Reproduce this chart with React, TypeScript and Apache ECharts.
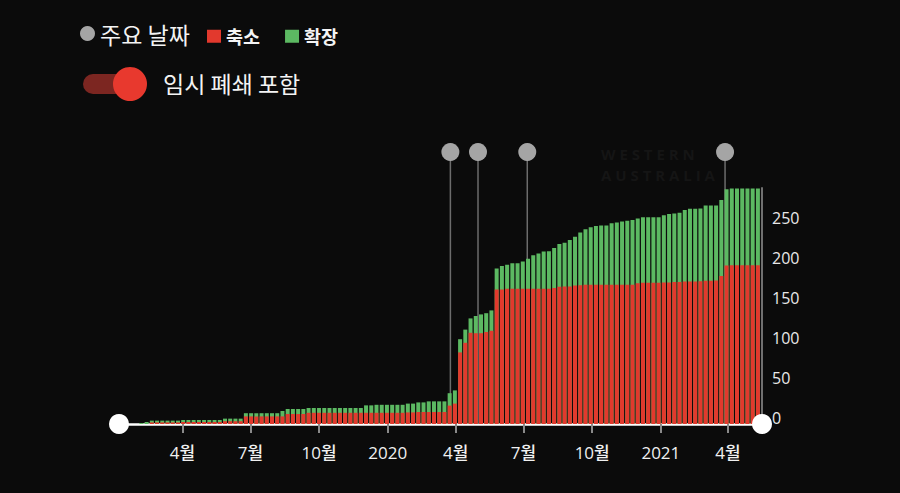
import React, { useEffect, useRef } from "react";
import * as echarts from "echarts";

const weekDates = [
  "2019-02-05","2019-02-12","2019-02-19","2019-02-26","2019-03-05","2019-03-12","2019-03-19","2019-03-26",
  "2019-04-02","2019-04-09","2019-04-16","2019-04-23","2019-04-30","2019-05-07","2019-05-14","2019-05-21",
  "2019-05-28","2019-06-04","2019-06-11","2019-06-18","2019-06-25","2019-07-02","2019-07-09","2019-07-16",
  "2019-07-23","2019-07-30","2019-08-06","2019-08-13","2019-08-20","2019-08-27","2019-09-03","2019-09-10",
  "2019-09-17","2019-09-24","2019-10-01","2019-10-08","2019-10-15","2019-10-22","2019-10-29","2019-11-05",
  "2019-11-12","2019-11-19","2019-11-26","2019-12-03","2019-12-10","2019-12-17","2019-12-24","2019-12-31",
  "2020-01-07","2020-01-14","2020-01-21","2020-01-28","2020-02-04","2020-02-11","2020-02-18","2020-02-25",
  "2020-03-03","2020-03-10","2020-03-17","2020-03-24","2020-03-31","2020-04-07","2020-04-14","2020-04-21",
  "2020-04-28","2020-05-05","2020-05-12","2020-05-19","2020-05-26","2020-06-02","2020-06-09","2020-06-16",
  "2020-06-23","2020-06-30","2020-07-07","2020-07-14","2020-07-21","2020-07-28","2020-08-04","2020-08-11",
  "2020-08-18","2020-08-25","2020-09-01","2020-09-08","2020-09-15","2020-09-22","2020-09-29","2020-10-06",
  "2020-10-13","2020-10-20","2020-10-27","2020-11-03","2020-11-10","2020-11-17","2020-11-24","2020-12-01",
  "2020-12-08","2020-12-15","2020-12-22","2020-12-29","2021-01-05","2021-01-12","2021-01-19","2021-01-26",
  "2021-02-02","2021-02-09","2021-02-16","2021-02-23","2021-03-02","2021-03-09","2021-03-16","2021-03-23",
  "2021-03-30","2021-04-06","2021-04-13","2021-04-20","2021-04-27","2021-05-04","2021-05-11",
];

// 축소 (red, bottom of stack)
const reductionValues = [
  0, 0, 2, 2, 2, 2, 2, 2, 2.5, 2.5, 2.5, 2.5, 2.5, 2.5, 2.5, 2.5,
  3.5, 3.5, 3.5, 3.5, 9.5, 9.5, 9.5, 9.5, 9.5, 9.5, 9.5, 9.5, 12.5, 12.5, 12.5, 12.5,
  14, 14, 14, 14, 14, 14, 14, 14, 14, 14, 14, 14, 14, 14, 14, 14,
  14, 14, 14, 14.5, 14.5, 15, 15, 15, 15, 15, 15, 23, 25.5, 89.5, 101.5, 114,
  113.5, 113.5, 115, 116.5, 168, 168, 169, 169, 169, 169, 169, 169, 169, 169, 169, 170,
  171.5, 172, 172, 173, 173.5, 174, 174, 174, 174, 174, 174, 174, 174, 174, 174, 176,
  176.5, 176.5, 176.5, 176.5, 177, 177, 177.5, 177.5, 178, 178, 178, 178.5, 179, 179, 179.5, 185,
  198, 198.5, 198.5, 198.5, 198.5, 198.5, 198.5,
];

// 확장 (green, stacked on top of 축소)
const expansionValues = [
  1.2, 2.5, 2.2, 2.2, 2.2, 2.2, 2.2, 2.2, 2.5, 2.5, 2.5, 2.5, 2.5, 2.5, 2.5, 2.5,
  3.2, 3.2, 3.2, 3.2, 4, 4, 4, 4, 4, 4, 4, 6.75, 6.25, 6.25, 6.25, 6.25,
  6, 6, 6, 6, 6, 6, 6, 6, 6, 6, 6, 9.3, 9.3, 10, 10, 10,
  10, 10, 10, 11, 11, 12, 12, 13.3, 13.3, 13.3, 13.3, 15.5, 16.5, 16.5, 16.5, 18,
  21.5, 23.5, 23.5, 25.5, 26.5, 29.5, 30, 32, 32, 34, 37.5, 42, 44, 46.5, 47, 50,
  53.5, 54.5, 58, 61, 66, 69.5, 72, 73.5, 74, 74, 77, 78, 79, 80, 81, 81,
  82, 82, 82, 82, 84, 85.5, 85.5, 86.5, 89.5, 91, 91, 91, 94, 94, 93.5, 95,
  95.5, 96, 96, 96, 96, 96, 96,
];

const keyDates = ["2020-03-25", "2020-05-01", "2020-07-06", "2021-03-28"];

const xTickDates = [
  "2019-04-01", "2019-07-01", "2019-10-01", "2020-01-01", "2020-04-01",
  "2020-07-01", "2020-10-01", "2021-01-01", "2021-04-01",
];

const xMin = "2019-01-06";
const xMax = "2021-05-16";
const yMax = 295;
const yInterval = 50;

const BG = "#0b0b0b";
const RED = "#e2392d";
const GREEN = "#5cb962";
const GREY_DOT = "#a5a5a5";
const FONT = '"Open Sans", "Noto Sans CJK KR", sans-serif';
const KFONT = '"Noto Sans CJK KR", "Noto Sans", sans-serif';

const GRID_LEFT = 119;
const GRID_RIGHT = 138;
const GRID_TOP = 188;
const GRID_BOTTOM = 69;
const W = 900;
const H = 493;

// local-time timestamp of a "YYYY-MM-DD" string
function ts(s: string): number {
  const [y, m, d] = s.split("-").map(Number);
  return new Date(y, m - 1, d).getTime();
}

export default function App() {
  const ref = useRef<HTMLDivElement>(null);

  useEffect(() => {
    document.body.style.margin = "0";
    document.body.style.background = BG;
    if (!ref.current) return;
    const chart = echarts.init(ref.current, null, { renderer: "svg" });
    const axisY = H - GRID_BOTTOM;
    const tickValues = xTickDates.map(ts);

    const option: any = {
      animation: false,
      backgroundColor: BG,
      textStyle: { fontFamily: FONT },
      grid: { left: GRID_LEFT, right: GRID_RIGHT, top: GRID_TOP, bottom: GRID_BOTTOM },
      legend: [
        {
          left: 80,
          top: 22,
          padding: 0,
          selectedMode: false,
          itemWidth: 15,
          itemHeight: 15,
          itemTextGap: 7,
          itemStyle: { borderWidth: 0 },
          textStyle: { color: "#f4f4f4", fontFamily: KFONT, fontSize: 23 },
          data: [{ name: "주요 날짜", icon: "circle" }],
        },
        {
          left: 207,
          top: 27,
          padding: 0,
          selectedMode: false,
          itemWidth: 14,
          itemHeight: 13,
          itemGap: 25,
          itemTextGap: 7,
          itemStyle: { borderWidth: 0 },
          textStyle: { color: "#f4f4f4", fontFamily: KFONT, fontSize: 18.5, fontWeight: "bold" },
          data: [
            { name: "축소", icon: "rect" },
            { name: "확장", icon: "rect" },
          ],
        },
      ],
      xAxis: {
        type: "value",
        min: ts(xMin),
        max: ts(xMax) + 12 * 3600 * 1000,
        splitLine: { show: false },
        axisLine: { show: true, onZero: false, lineStyle: { color: "#ffffff", width: 2.5 } },
        axisTick: {
          show: true,
          customValues: tickValues,
          length: 9,
          lineStyle: { color: "#8a8a8a", width: 2 },
        },
        axisLabel: {
          customValues: tickValues,
          color: "#f0f0f0",
          fontSize: 17,
          fontWeight: 500,
          fontFamily: FONT,
          margin: 20,
          formatter: (v: number) => {
            const d = new Date(v);
            return d.getMonth() === 0 ? String(d.getFullYear()) : `${d.getMonth() + 1}월`;
          },
        },
      },
      yAxis: {
        type: "value",
        position: "right",
        min: 0,
        max: yMax,
        interval: yInterval,
        splitLine: { show: false },
        axisTick: { show: false },
        axisLine: { show: true, lineStyle: { color: "#707070", width: 2 } },
        axisLabel: {
          color: "#e8e8e8",
          fontSize: 16,
          fontFamily: FONT,
          margin: 10,
          verticalAlign: "bottom",
          lineHeight: 13,
          showMaxLabel: false,
        },
      },
      graphic: [
        {
          type: "text",
          left: 601,
          top: 143,
          z: 0,
          style: {
            text: "W E S T E R N\nA U S T R A L I A",
            fill: "#151515",
            font: `bold 15px ${FONT}`,
            align: "center",
            lineHeight: 21,
          },
        },
        {
          type: "group",
          left: 83,
          top: 67,
          children: [
            { type: "rect", shape: { x: 0, y: 7, width: 47, height: 20, r: 10 }, style: { fill: "#7c2621" } },
            { type: "circle", shape: { cx: 47, cy: 17, r: 17 }, style: { fill: "#e8392e" } },
          ],
        },
        {
          type: "text",
          left: 163,
          top: 71,
          style: { text: "임시 폐쇄 포함", fill: "#f4f4f4", font: `23px ${KFONT}` },
        },
        {
          type: "circle",
          z: 100,
          shape: { cx: GRID_LEFT, cy: axisY, r: 10 },
          style: { fill: "#ffffff" },
        },
        {
          type: "circle",
          z: 100,
          shape: { cx: W - GRID_RIGHT, cy: axisY, r: 10 },
          style: { fill: "#ffffff" },
        },
      ],
      series: [
        {
          name: "주요 날짜",
          type: "custom",
          z: 1,
          itemStyle: { color: GREY_DOT },
          encode: { x: 0, y: 1 },
          data: keyDates.map((d) => [ts(d), 0]),
          renderItem: (params: any, api: any) => {
            const base = api.coord([api.value(0), 0]);
            const cs = params.coordSys;
            const cy = cs.y - 36;
            return {
              type: "group",
              children: [
                {
                  type: "line",
                  shape: { x1: base[0], y1: cy, x2: base[0], y2: base[1] },
                  style: { stroke: "#6c6c6c", lineWidth: 1.5 },
                },
                {
                  type: "circle",
                  shape: { cx: base[0], cy, r: 9 },
                  style: { fill: GREY_DOT },
                },
              ],
            };
          },
        },
        {
          // top segment: drawn as the full stack height behind the 축소 bar
          name: "확장",
          type: "bar",
          barWidth: 4,
          barGap: "-100%",
          z: 2,
          itemStyle: { color: GREEN },
          data: weekDates.map((d, i) => [ts(d), reductionValues[i] + expansionValues[i]]),
        },
        {
          name: "축소",
          type: "bar",
          barWidth: 4,
          barGap: "-100%",
          z: 3,
          itemStyle: { color: RED },
          data: weekDates.map((d, i) => [ts(d), reductionValues[i]]),
        },
      ],
    };

    chart.setOption(option);
    return () => chart.dispose();
  }, []);

  return <div ref={ref} style={{ width: W, height: H, background: BG }} />;
}
